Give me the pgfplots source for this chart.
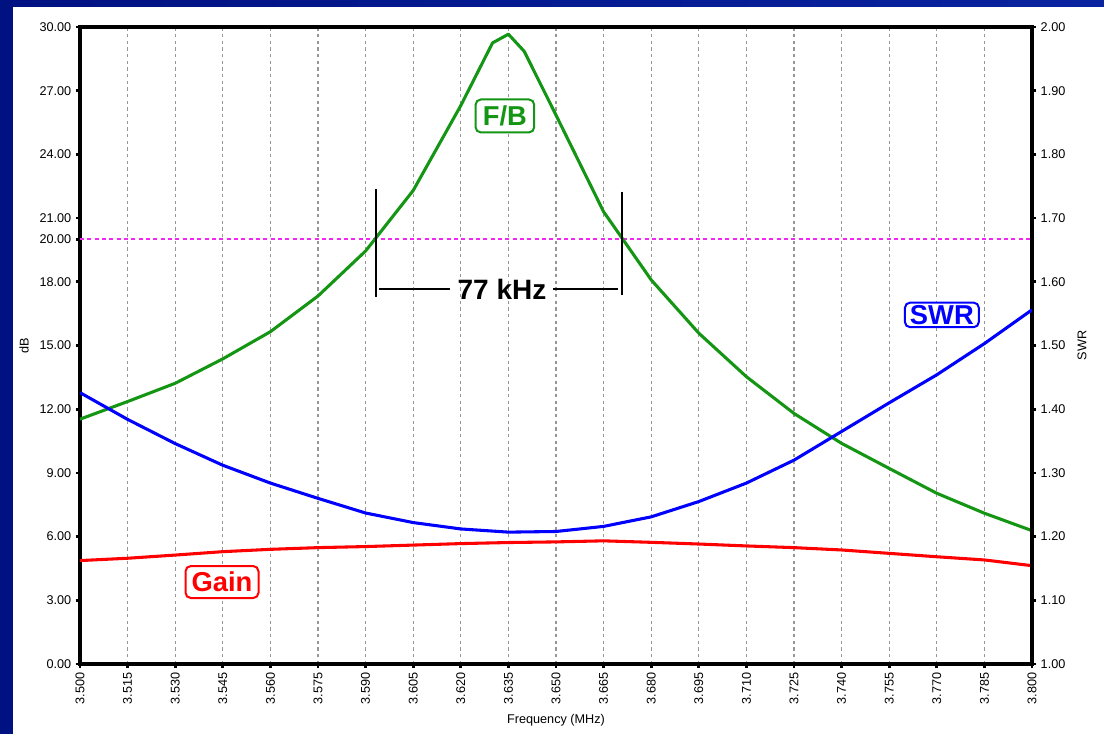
\documentclass[border=0pt]{standalone}
\usepackage{pgfplots}
\pgfplotsset{compat=1.18}
\usepackage{fontspec}
\setmainfont{Liberation Sans}
\definecolor{fbgreen}{RGB}{20,150,20}
\definecolor{swrblue}{RGB}{0,0,255}
\definecolor{gainred}{RGB}{255,0,0}
\definecolor{refmag}{RGB}{240,40,240}
\definecolor{gridgray}{RGB}{150,150,150}
\definecolor{bgA}{RGB}{0,18,130}
\definecolor{bgB}{RGB}{10,35,160}
\newcommand{\tickfont}{\fontsize{9.5}{11}\selectfont}
\newcommand{\tagfont}{\fontsize{20.5}{22}\selectfont\bfseries}
\begin{document}
\begin{tikzpicture}
\shade[left color=bgA, right color=bgB] (0,0) rectangle (828pt,550.5pt);
\fill[white] (9.75pt,0) rectangle (828pt,545.25pt);
\begin{axis}[
  width=714pt, height=477.75pt, scale only axis,
  at={(60pt,52.5pt)}, anchor=south west,
  xmin=3.5, xmax=3.8, ymin=0, ymax=30,
  axis line style={line width=2.5pt},
  tick align=outside, major tick length=3pt,
  tick style={line width=2pt, black},
  xtick pos=bottom, ytick pos=left,
  xtick={3.500,3.515,3.530,3.545,3.560,3.575,3.590,3.605,3.620,3.635,3.650,3.665,3.680,3.695,3.710,3.725,3.740,3.755,3.770,3.785,3.800},
  ytick={0,3,6,9,12,15,18,20,21,24,27,30},
  xticklabel={\pgfmathprintnumber[fixed,fixed zerofill,precision=3,assume math mode=true]{\tick}},
  yticklabel={\pgfmathprintnumber[fixed,fixed zerofill,precision=2,assume math mode=true]{\tick}},
  xticklabel style={rotate=90, anchor=east, font=\tickfont},
  yticklabel style={font=\tickfont},
  scaled x ticks=false,
  xmajorgrids,
  major grid style={gridgray, line width=0.8pt, dash pattern=on 2.6pt off 2.4pt},
  ylabel={dB},
  ylabel style={at={(axis description cs:-0.0588,0.5)}, anchor=center, font=\tickfont},
  xlabel={Frequency (MHz)},
  xlabel style={at={(axis description cs:0.5,-0.088)}, anchor=center, font=\tickfont},
]
\addplot[draw=refmag, line width=1.3pt, dash pattern=on 3pt off 2.5pt, forget plot] coordinates {(3.5,20) (3.8,20)};
\addplot[color=gainred, line width=2.3pt, line join=round] coordinates {
(3.500,4.87) (3.515,4.98) (3.530,5.13) (3.545,5.29) (3.560,5.40) (3.575,5.48) (3.590,5.53)
(3.605,5.60) (3.620,5.67) (3.635,5.72) (3.650,5.75) (3.665,5.80) (3.680,5.73) (3.695,5.65)
(3.710,5.56) (3.725,5.48) (3.740,5.37) (3.755,5.21) (3.770,5.05) (3.785,4.90) (3.800,4.63)};
\addplot[color=fbgreen, line width=2.3pt, line join=round] coordinates {
(3.500,11.53) (3.515,12.36) (3.530,13.22) (3.545,14.37) (3.560,15.65) (3.575,17.33) (3.590,19.45)
(3.605,22.30) (3.620,26.30) (3.630,29.25) (3.635,29.66) (3.640,28.85) (3.650,25.85) (3.665,21.30)
(3.680,18.09) (3.695,15.58) (3.710,13.53) (3.725,11.80) (3.740,10.39) (3.755,9.21) (3.770,8.04)
(3.785,7.10) (3.800,6.28)};
\draw[line width=1.5pt] (axis cs:3.5933,22.36) -- (axis cs:3.5933,17.30);
\draw[line width=1.5pt] (axis cs:3.6707,22.25) -- (axis cs:3.6707,17.38);
\draw[line width=1.5pt] (axis cs:3.5942,17.66) -- (axis cs:3.6166,17.66);
\draw[line width=1.5pt] (axis cs:3.6490,17.66) -- (axis cs:3.6695,17.66);
\node[font=\fontsize{21}{22}\selectfont\bfseries] at (axis cs:3.63298,17.66) {77 kHz};
\node[draw=fbgreen, line width=1.5pt, rounded corners=4pt, fill=white, text=fbgreen, font=\tagfont,
  minimum width=44pt, minimum height=24.75pt, inner sep=1pt] at (axis cs:3.6339,25.81) {F/B};
\node[draw=swrblue, line width=1.5pt, rounded corners=4pt, fill=white, text=swrblue, font=\tagfont,
  minimum width=55.5pt, minimum height=18.5pt, inner sep=0.5pt] at (axis cs:3.7716,16.44) {SWR};
\node[draw=gainred, line width=1.5pt, rounded corners=4pt, fill=white, text=gainred, font=\tagfont,
  minimum width=54.75pt, minimum height=24pt, inner sep=1pt] at (axis cs:3.54475,3.86) {Gain};
\end{axis}
\begin{axis}[
  width=714pt, height=477.75pt, scale only axis,
  at={(60pt,52.5pt)}, anchor=south west,
  xmin=3.5, xmax=3.8, ymin=1, ymax=2,
  axis x line=none, axis y line*=right,
  axis line style={line width=2.5pt},
  tick align=outside, major tick length=3pt,
  tick style={line width=2pt, black},
  ytick={1.0,1.1,1.2,1.3,1.4,1.5,1.6,1.7,1.8,1.9,2.0},
  yticklabel={\pgfmathprintnumber[fixed,fixed zerofill,precision=2,assume math mode=true]{\tick}},
  yticklabel style={font=\tickfont, anchor=west},
  ylabel={SWR},
  ylabel style={at={(axis description cs:1.0525,0.5)}, anchor=center, font=\tickfont},
]
\addplot[color=swrblue, line width=2.3pt, line join=round] coordinates {
(3.500,1.426) (3.515,1.384) (3.530,1.346) (3.545,1.312) (3.560,1.284) (3.575,1.260) (3.590,1.237)
(3.605,1.222) (3.620,1.212) (3.635,1.207) (3.650,1.208) (3.665,1.216) (3.680,1.231) (3.695,1.255)
(3.710,1.284) (3.725,1.320) (3.740,1.365) (3.755,1.410) (3.770,1.454) (3.785,1.503) (3.800,1.556)};
\end{axis}
\pgfresetboundingbox
\useasboundingbox (0,0) rectangle (828pt,550.5pt);
\end{tikzpicture}
\end{document}
